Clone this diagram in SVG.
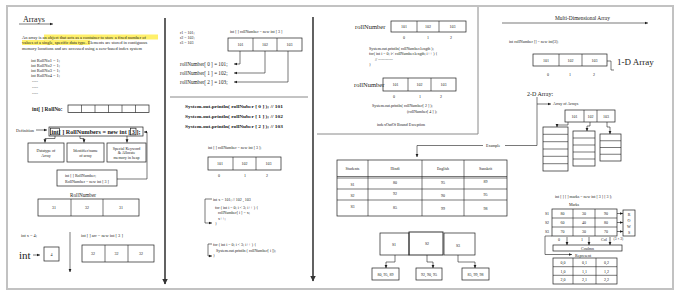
<svg xmlns="http://www.w3.org/2000/svg" width="680" height="297" viewBox="0 0 680 297">
<defs>
<marker id="a" viewBox="0 0 6 6" refX="5.5" refY="3" markerWidth="3.5" markerHeight="3.5" markerUnits="userSpaceOnUse" orient="auto"><path d="M0,0.5 L6,3 L0,5.5 z" fill="#1e1e1e"/></marker>
<marker id="A" viewBox="0 0 6 6" refX="5.5" refY="3" markerWidth="6" markerHeight="6" markerUnits="userSpaceOnUse" orient="auto"><path d="M0,0 L6,3 L0,6 z" fill="#333"/></marker>
<style>
text{font-family:"Liberation Serif","DejaVu Serif",serif;fill:#222}
.xs{font-size:4px}
.s{font-size:4.4px}
.m{font-size:5.2px}
.c{text-anchor:middle}
.bx{fill:none;stroke:#1e1e1e;stroke-width:0.7}
.ln{fill:none;stroke:#1e1e1e;stroke-width:0.6}
.ar{marker-end:url(#a)}
.tk{fill:none;stroke:#3a3a3a;stroke-width:1.6;marker-end:url(#A)}
.hl{fill:#fff06a}
</style>
</defs>
<rect width="680" height="297" fill="#fff"/>
<rect x="7" y="6" width="666" height="283" fill="none" stroke="#c2c2c2" stroke-width="2"/>
<path d="M317 134 H478 V7" fill="none" stroke="#8a8a8a" stroke-width="1"/>
<path d="M170 97 H308" fill="none" stroke="#888" stroke-width="1"/>

<g id="connectors">
<path class="tk" d="M165 18 V284"/>
<path class="tk" d="M313 17 V281"/>
<path class="ln" d="M19 24 H53" marker-end="url(#a)" stroke-width="0.9"/>
<path class="ln ar" d="M36 130 H47"/>
<path class="ln ar" d="M55 136 V138.5 H45 V142.5"/>
<path class="ln ar" d="M80 136 V138.5 H84 V142.5"/>
<path class="ln ar" d="M127 136 V142.5"/>
<path class="ln ar" d="M117 179 H147 V132 H144"/>
<path class="ln ar" d="M33 255 H40"/>
<path class="ln ar" d="M70 232 V272"/>
<path class="ln ar" d="M240 51 V64 H234"/>
<path class="ln ar" d="M265 51 V73 H234"/>
<path class="ln ar" d="M288 51 V82 H234"/>
<path class="ln ar" d="M212 199 H205 V223 H212"/>
<path class="ln ar" d="M212 244 H208 V256 H212"/>
<path class="ln" d="M537 97 V145.5 H505"/>
<path class="ln ar" d="M483 145.5 H417 V157"/>
<path class="ln ar" d="M537 104 H551"/>
<path class="ln ar" d="M395 255 V262 H386 V268"/>
<path class="ln ar" d="M427 255 V262 H433 V268"/>
<path class="ln ar" d="M458 255 V262 H475 V268"/>
<path class="ln ar" d="M502 23 H648" stroke-width="0.8"/>
<path class="ln" d="M607 61 H611 V70 H614"/>
<path class="ln ar" d="M568 122 V125 H557 V127"/>
<path class="ln ar" d="M590 122 V126 H587 V131"/>
<path class="ln ar" d="M607 122 V127 H610 V134"/>
<path class="ln ar" d="M617 213.5 H623"/>
<path class="ln ar" d="M617 222.5 H623"/>
<path class="ln ar" d="M617 231.5 H623"/>
<path class="ln ar" d="M567 237 V245"/>
<path class="ln ar" d="M589 237 V245"/>
<path class="ln ar" d="M610 237 V245"/>
<path class="ln ar" d="M552 236 H545 V254.5 H572"/>
</g>

<g id="arrays-intro">
<text x="23" y="22" style="font-size:8px">Arrays</text>
<rect class="hl" x="44" y="34.5" width="114" height="5"/>
<rect class="hl" x="22" y="40" width="68" height="5"/>
<text class="s" x="22" y="38.5">An array is an object that acts as a container to store a fixed number of</text>
<text class="s" x="22" y="44">values of a single, specific data type. Elements are stored in contiguous</text>
<text class="s" x="22" y="49.5">memory locations and are accessed using a zero-based index system</text>
<text class="s" x="31" y="62">int RollNo1 = 1;</text>
<text class="s" x="31" y="67">int RollNo2 = 1;</text>
<text class="s" x="31" y="72">int RollNo3 = 1;</text>
<text class="s" x="31" y="77">int RollNo4 = 1;</text>
<text class="s" x="32" y="83">----</text>
<text class="s" x="32" y="89">----</text>
<text class="s" x="32" y="95">----</text>
</g>

<g id="rollno-cells">
<text x="32" y="110.5" style="font-size:5.4px;font-weight:bold">int[ ] RollNo:</text>
<rect class="bx" x="68" y="105" width="81" height="7.5"/>
<path class="ln" d="M81.5 105 V112.5 M95 105 V112.5 M108.5 105 V112.5 M122 105 V112.5 M135.5 105 V112.5"/>
</g>

<g id="definition">
<text class="s" x="16" y="131.5">Definition</text>
<rect class="bx" x="49" y="127" width="94" height="9"/>
<rect class="bx" x="50.5" y="128.2" width="9" height="6.6"/>
<rect class="bx" x="130.5" y="128.2" width="5.5" height="6.6"/>
<text x="51.5" y="133.8" style="font-size:6.4px;font-weight:bold" textLength="89" lengthAdjust="spacingAndGlyphs">int[ ] RollNumbers = new int [ 3 ];</text>
</g>

<g id="datatype">
<rect class="bx" x="28" y="143" width="36" height="19"/>
<text class="xs c" x="46" y="151.5">Datatype of</text>
<text class="xs c" x="46" y="156.5">Array</text>
</g>
<g id="identifier">
<rect class="bx" x="67" y="143" width="37" height="19"/>
<text class="xs c" x="85.5" y="151.5">Identifier/name</text>
<text class="xs c" x="85.5" y="156.5">of array</text>
</g>
<g id="keyword">
<rect class="bx" x="107" y="143" width="39" height="19"/>
<text class="xs c" x="126.5" y="149.5">Special Keyword</text>
<text class="xs c" x="126.5" y="154">&amp; Allocate</text>
<text class="xs c" x="126.5" y="158.5">memory in heap</text>
</g>
<g id="declare">
<rect class="bx" x="57" y="170" width="60" height="16"/>
<text class="xs" x="65" y="176.5">int [ ] RollNumber;</text>
<text class="xs" x="65" y="182.5">RollNumber = new int [ 3 ]</text>
</g>

<g id="rollnumber-31">
<text class="m c" x="83" y="197">RollNumber</text>
<rect class="bx" x="38" y="199" width="101" height="17"/>
<path class="ln" d="M71 199 V216 M103 199 V216"/>
<text class="xs c" x="54" y="209">31</text>
<text class="xs c" x="87" y="209">32</text>
<text class="xs c" x="121" y="209">31</text>
</g>

<g id="int-x">
<text class="s" x="21" y="237">int x = 4;</text>
<text x="19" y="258.5" style="font-size:11px">int</text>
<rect class="bx" x="44" y="247" width="15" height="14"/>
<text class="xs c" x="51.5" y="255.5">4</text>
</g>
<g id="arr">
<text class="s" x="81" y="236.5">int [ ] arr = new int [ 3 ]</text>
<rect class="bx" x="82" y="245" width="72" height="17"/>
<path class="ln" d="M105 245 V262 M128 245 V262"/>
<text class="xs c" x="93" y="255">32</text>
<text class="xs c" x="116.5" y="255">32</text>
<text class="xs c" x="141" y="255">32</text>
</g>

<g id="p2-top">
<text class="xs" x="180" y="34">r1 = 101;</text>
<text class="xs" x="180" y="39">r2 = 102;</text>
<text class="xs" x="180" y="44">r3 = 103</text>
<text class="xs" x="230" y="33">int [ ] rollNumber = new int [ 3 ]</text>
<rect class="bx" x="228" y="38" width="74" height="13"/>
<path class="ln" d="M253 38 V51 M277 38 V51"/>
<text class="xs c" x="240.5" y="46">101</text>
<text class="xs c" x="265" y="46">102</text>
<text class="xs c" x="289.5" y="46">103</text>
<text class="m" x="180" y="66">rollNumber[ 0 ] = 101;</text>
<text class="m" x="180" y="75">rollNumber[ 1 ] = 102;</text>
<text class="m" x="180" y="84">rollNumber[ 2 ] = 103;</text>
</g>

<g id="p2-print">
<text x="185" y="107.5" style="font-size:5px;font-weight:bold" textLength="98" lengthAdjust="spacingAndGlyphs">System.out.println( rollNuber [ 0 ] );   // 101</text>
<text x="185" y="117.5" style="font-size:5px;font-weight:bold" textLength="98" lengthAdjust="spacingAndGlyphs">System.out.println( rollNuber [ 1 ] );   // 102</text>
<text x="185" y="127.5" style="font-size:5px;font-weight:bold" textLength="98" lengthAdjust="spacingAndGlyphs">System.out.println( rollNuber [ 2 ] );   // 103</text>
</g>

<g id="p2-mid">
<text class="xs" x="208" y="148.5">int [ ] rollNumber = new int [ 3 ];</text>
<rect class="bx" x="208" y="157" width="73" height="13"/>
<path class="ln" d="M233 157 V170 M256 157 V170"/>
<text class="xs c" x="220" y="165">101</text>
<text class="xs c" x="244.5" y="165">102</text>
<text class="xs c" x="268.5" y="165">103</text>
<text class="xs c" x="219" y="177">0</text>
<text class="xs c" x="245" y="177">1</text>
<text class="xs c" x="267" y="177">2</text>
</g>

<g id="p2-loops">
<text class="xs" x="213" y="200.5">int x = 101; // 102 , 103</text>
<text class="xs" x="215" y="209">for ( int i = 0; i &lt; 3; i++ ) {</text>
<text class="xs" x="218" y="214">rollNumber[ i ] = x;</text>
<text class="xs" x="218" y="219.5">x++;</text>
<text class="xs" x="215" y="225">}</text>
<text class="xs" x="213" y="246">for ( int i = 0; i &lt; 3; i++ ) {</text>
<text class="xs" x="216" y="251.5">System.out.println ( rollNumber[ i ]);</text>
<text class="xs" x="213" y="257">}</text>
</g>

<g id="p3-length">
<text x="355" y="29" style="font-size:6.5px">rollNumber</text>
<rect class="bx" x="391" y="21" width="75" height="11"/>
<path class="ln" d="M417 21 V32 M439 21 V32"/>
<text class="xs c" x="404" y="28">101</text>
<text class="xs c" x="428" y="28">102</text>
<text class="xs c" x="452.5" y="28">103</text>
<text class="xs c" x="404" y="38.5">0</text>
<text class="xs c" x="428" y="38.5">1</text>
<text class="xs c" x="451" y="38.5">2</text>
<text class="xs" x="369" y="49.5">System.out.println( rollNumber.length );</text>
<text class="xs" x="369" y="55">for( int i = 0; i&lt; rollNumber.length; i++ ) {</text>
<text class="xs" x="375" y="60.5">// -----------</text>
<text class="xs" x="369" y="66">}</text>
</g>

<g id="p3-exception">
<text x="354" y="87" style="font-size:6.5px">rollNumber</text>
<rect class="bx" x="383" y="78" width="73" height="13"/>
<path class="ln" d="M408 78 V91 M431 78 V91"/>
<text class="xs c" x="395.5" y="86">101</text>
<text class="xs c" x="419.5" y="86">102</text>
<text class="xs c" x="443.5" y="86">103</text>
<text class="xs c" x="394" y="97.5">0</text>
<text class="xs c" x="420" y="97.5">1</text>
<text class="xs c" x="441" y="97.5">2</text>
<text class="xs" x="372" y="106.5">System.out.println( rollNumber[ 2 ] );</text>
<text class="xs" x="407" y="112.5">(rollNumber[ 4 ] );</text>
<text class="xs" x="377" y="125.5">indexOutOf Bound Exception</text>
</g>

<g id="example-table">
<text class="xs" x="486" y="147">Example</text>
<rect class="bx" x="337" y="160" width="170" height="56"/>
<path class="ln" d="M368 160 V216 M422 160 V216 M464 160 V216 M337 176.5 H507 M337 178 H507 M337 189 H507 M337 200 H507"/>
<text class="xs c" x="352.5" y="170">Students</text>
<text class="xs c" x="395" y="170">Hindi</text>
<text class="xs c" x="443" y="170">English</text>
<text class="xs c" x="485.5" y="170">Sanskrit</text>
<text class="xs c" x="352.5" y="186">S1</text>
<text class="xs c" x="395" y="184">80</text>
<text class="xs c" x="443" y="184">95</text>
<text class="xs c" x="485.5" y="182.5">89</text>
<text class="xs c" x="352.5" y="197">S2</text>
<text class="xs c" x="395" y="194.5">92</text>
<text class="xs c" x="443" y="196.5">90</text>
<text class="xs c" x="485.5" y="195.5">95</text>
<text class="xs c" x="352.5" y="208">S3</text>
<text class="xs c" x="395" y="209">85</text>
<text class="xs c" x="443" y="210">99</text>
<text class="xs c" x="485.5" y="210">98</text>
</g>

<g id="s-boxes">
<rect class="bx" x="380" y="233" width="29" height="22"/>
<rect class="bx" x="409" y="232" width="34" height="23" style="stroke-width:0.9"/>
<rect class="bx" x="444" y="233" width="31" height="22"/>
<text class="xs c" x="394" y="245.5">S1</text>
<text class="xs c" x="427" y="245">S2</text>
<text class="xs c" x="458" y="246.5">S3</text>
</g>
<g id="s1-marks"><rect class="bx" x="372" y="268" width="27" height="12"/><text class="xs c" x="385.5" y="275.5">80, 95, 89</text></g>
<g id="s2-marks"><rect class="bx" x="416" y="268" width="26" height="12"/><text class="xs c" x="429" y="275.5">92, 90, 95</text></g>
<g id="s3-marks"><rect class="bx" x="462" y="268" width="27" height="12"/><text class="xs c" x="475.5" y="275.5">85, 99, 98</text></g>

<g id="multi-1d">
<text x="555" y="19.5" style="font-size:5.4px">Multi-Dimensional Array</text>
<text class="xs" x="509" y="42.5">int rollNumber [] = new int[3];</text>
<rect class="bx" x="533" y="54" width="74" height="12"/>
<path class="ln" d="M559 54 V66 M582 54 V66"/>
<text class="xs c" x="546" y="61.5">101</text>
<text class="xs c" x="570.5" y="61.5">102</text>
<text class="xs c" x="594.5" y="61.5">103</text>
<text class="xs c" x="548" y="75.5">0</text>
<text class="xs c" x="570" y="75.5">1</text>
<text class="xs c" x="594" y="75.5">2</text>
<text x="617" y="65" style="font-size:9px">1-D Array</text>
</g>

<g id="multi-2d">
<text x="527" y="95.5" style="font-size:6px">2-D Array:</text>
<text class="xs" x="553" y="105">Array of Arrays</text>
<rect class="bx" x="565" y="110" width="50" height="12"/>
<path class="ln" d="M584 110 V122 M597 110 V122"/>
<text class="xs c" x="574.5" y="117.5">101</text>
<text class="xs c" x="590.5" y="117.5">102</text>
<text class="xs c" x="606" y="117.5">103</text>
<rect class="bx" x="543" y="127" width="25" height="44"/>
<path class="ln" d="M543 134.3 H568 M543 141.7 H568 M543 149 H568 M543 156.3 H568 M543 163.7 H568"/>
<rect class="bx" x="573" y="131" width="22" height="35"/>
<path class="ln" d="M573 138 H595 M573 145 H595 M573 152 H595 M573 159 H595"/>
<rect class="bx" x="600" y="134" width="21" height="27"/>
<path class="ln" d="M600 140.75 H621 M600 147.5 H621 M600 154.25 H621"/>
</g>

<g id="marks-grid">
<text class="xs" x="555" y="197.5">int [ ] [ ] marks = new int [ 3 ] [ 3 ];</text>
<text class="xs c" x="574" y="206">Marks</text>
<rect class="bx" x="552" y="209" width="65" height="27"/>
<path class="ln" d="M573 209 V236 M595 209 V236 M552 218 H617 M552 227 H617"/>
<text class="xs c" x="547" y="215">S1</text>
<text class="xs c" x="547" y="224">S2</text>
<text class="xs c" x="547" y="233">S3</text>
<text class="xs c" x="562.5" y="215">80</text><text class="xs c" x="584" y="215">30</text><text class="xs c" x="606" y="215">90</text>
<text class="xs c" x="562.5" y="224">60</text><text class="xs c" x="584" y="224">40</text><text class="xs c" x="606" y="224">80</text>
<text class="xs c" x="562.5" y="233">70</text><text class="xs c" x="584" y="233">30</text><text class="xs c" x="606" y="233">70</text>
</g>
<g id="rows-box">
<rect class="bx" x="623" y="210" width="12" height="26"/>
<text class="xs c" x="629" y="216">R</text>
<text class="xs c" x="629" y="222">O</text>
<text class="xs c" x="629" y="228">W</text>
<text class="xs c" x="629" y="234">S</text>
</g>
<g id="column-box">
<text class="xs c" x="559" y="240.5">0</text>
<text class="xs c" x="582" y="240.5">1</text>
<text class="xs c" x="604" y="240.5">Col</text>
<text x="613.5" y="239.5" style="font-size:3.6px">(3 × 3)</text>
<rect class="bx" x="553" y="245" width="69" height="6"/>
<text class="xs c" x="587.5" y="249.5">Coulmn</text>
<text class="xs" x="575" y="256.5">Represent</text>
</g>
<g id="index-grid">
<rect class="bx" x="553" y="258" width="64" height="26"/>
<path class="ln" d="M573 258 V284 M596 258 V284 M553 266.7 H617 M553 275.3 H617"/>
<text class="xs c" x="563" y="264">0,0</text><text class="xs c" x="584.5" y="264">0,1</text><text class="xs c" x="606.5" y="264">0,2</text>
<text class="xs c" x="563" y="272.5">1,0</text><text class="xs c" x="584.5" y="272.5">1,1</text><text class="xs c" x="606.5" y="272.5">1,2</text>
<text class="xs c" x="563" y="281">2,0</text><text class="xs c" x="584.5" y="281">2,1</text><text class="xs c" x="606.5" y="281">2,2</text>
</g>
</svg>
